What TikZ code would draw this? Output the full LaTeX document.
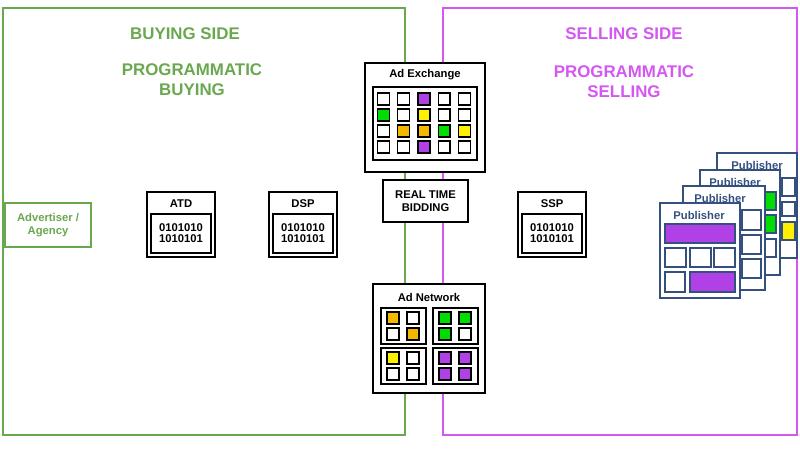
\documentclass[tikz,border=0pt]{standalone}
\usepackage{fontspec}
\setmainfont{Liberation Sans}
\usetikzlibrary{positioning}
\definecolor{buygreen}{HTML}{6AA84F}
\definecolor{sellpurple}{HTML}{D357F0}
\definecolor{cellP}{HTML}{B041E6}
\definecolor{cellG}{HTML}{00DD00}
\definecolor{cellY}{HTML}{FFF000}
\definecolor{cellO}{HTML}{F5B800}
\definecolor{cellW}{HTML}{FFFFFF}
\definecolor{pubblue}{HTML}{34507F}
\tikzset{
  frame/.style={draw=black, line width=1.2pt, fill=white},
  cell/.style={draw=black, line width=1pt, minimum size=8.5pt, inner sep=0pt},
  title/.style={font=\bfseries\small, align=center},
  bits/.style={font=\bfseries\footnotesize, align=center},
  pubpage/.style={draw=pubblue, line width=1.2pt, fill=white},
  pubcell/.style={draw=pubblue, line width=1.1pt}
}
\begin{document}
\begin{tikzpicture}[x=0.025cm, y=-0.025cm]
      \useasboundingbox (0,0) rectangle (800,458);

      % SIDES
      \draw[buygreen, line width=1.3pt] (3,8) rectangle (405,435);
      \draw[sellpurple, line width=1.3pt] (443,8) rectangle (797,435);
      \node[title, text=buygreen, font=\bfseries\large] (buyside) at (185,34) {BUYING SIDE};
      \node[title, text=buygreen, font=\bfseries\large] (buyprog) at (192,80) {PROGRAMMATIC\\BUYING};
      \node[title, text=sellpurple, font=\bfseries\large] (sellside) at (624,34) {SELLING SIDE};
      \node[title, text=sellpurple, font=\bfseries\large] (sellprog) at (624,82) {PROGRAMMATIC\\SELLING};

      % Advertiser
      \draw[buygreen, line width=1.3pt, fill=white] (5,203) rectangle (91,247);
      \node[title, text=buygreen, font=\bfseries\footnotesize] (advertiser) at (48,225) {Advertiser /\\Agency};

      % ATD, DSP, SSP
      \foreach \name/\x in {ATD/147, DSP/269, SSP/518}{
        \draw[frame] (\x,192) rectangle ++(68,65);
        \node[title, font=\bfseries\footnotesize] (\name) at (\x+34,204) {\name};
        \draw[line width=1pt] (\x+4,214) rectangle ++(60,39);
        \node[bits] (\name bits) at (\x+34,233) {0101010\\[-2pt]1010101};
      }

      % Ad Exchange
      \draw[frame] (365,63) rectangle (485,172);
      \node[title, font=\bfseries\footnotesize] (exchange) at (425,75) {Ad Exchange};
      \draw[line width=1.3pt] (373,87) rectangle (477,160);
      \foreach \row [count=\j] in {{W,W,P,W,W},{G,W,Y,W,W},{W,O,O,G,Y},{W,W,P,W,W}}{
        \foreach \c [count=\i] in \row
          \node[cell, fill=cell\c] (ex\i\j) at (363+20.3*\i, 83+16*\j) {};
      }

      % Real time bidding
      \draw[frame] (383,180) rectangle (468,222);
      \node[title, font=\bfseries\footnotesize] (rtb) at (425.5,201) {REAL TIME\\BIDDING};

      % Ad Network
      \draw[frame] (373,284) rectangle (485,393);
      \node[title, font=\bfseries\footnotesize] (network) at (429,297) {Ad Network};
      \foreach \x/\y/\a/\b/\c/\d in {381/308/O/W/W/O, 433/308/G/G/G/W, 381/348/Y/W/W/W, 433/348/P/P/P/P}{
        \draw[line width=1.3pt] (\x,\y) rectangle ++(45,36);
        \node[cell, fill=cell\a] at (\x+12,\y+10) {};
        \node[cell, fill=cell\b] at (\x+32,\y+10) {};
        \node[cell, fill=cell\c] at (\x+12,\y+26) {};
        \node[cell, fill=cell\d] at (\x+32,\y+26) {};
      }

      % Publishers
      \draw[pubpage] (717,153) rectangle (797,258);
      \node[title, text=pubblue, font=\bfseries\footnotesize] (pub4) at (757,165) {Publisher};
      \draw[pubcell, fill=cellW] (782,178) rectangle (795,196);
      \draw[pubcell, fill=cellW] (782,202) rectangle (795,216);
      \draw[pubcell, fill=cellY] (782,222) rectangle (795,240);
      \draw[pubpage] (700,170) rectangle (780,275);
      \node[title, text=pubblue, font=\bfseries\footnotesize] (pub3) at (735,182) {Publisher};
      \draw[pubcell, fill=cellG] (763,192) rectangle (776,210);
      \draw[pubcell, fill=cellG] (763,215) rectangle (776,233);
      \draw[pubcell, fill=cellW] (763,239) rectangle (776,257);
      \draw[pubpage] (683,186) rectangle (765,290);
      \node[title, text=pubblue, font=\bfseries\footnotesize] (pub2) at (720,198) {Publisher};
      \draw[pubcell, fill=cellW] (742,210) rectangle (761,230);
      \draw[pubcell, fill=cellW] (742,235) rectangle (761,254);
      \draw[pubcell, fill=cellW] (742,259) rectangle (761,278);
      \draw[pubpage] (660,203) rectangle (740,298);
      \node[title, text=pubblue, font=\bfseries\footnotesize] (pub1) at (699,215) {Publisher};
      \draw[pubcell, fill=cellP] (665,224) rectangle (735,243);
      \draw[pubcell] (665,248) rectangle (686,267);
      \draw[pubcell] (690,248) rectangle (711,267);
      \draw[pubcell] (714,248) rectangle (735,267);
      \draw[pubcell] (665,272) rectangle (685,292);
      \draw[pubcell, fill=cellP] (690,272) rectangle (735,292);
\end{tikzpicture}
\end{document}
